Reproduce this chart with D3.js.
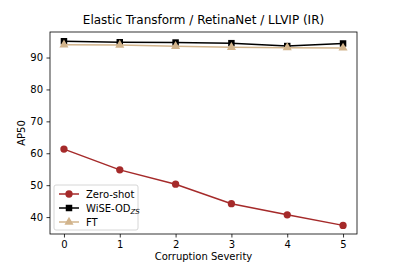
<!DOCTYPE html>
<html>
<head>
<meta charset="UTF-8">
<script src="https://d3js.org/d3.v7.min.js"></script>
<style>
  body { margin: 0; background: #fff; }
  text { font-family: "DejaVu Sans", sans-serif; }
</style>
</head>
<body>
<div id="chart"></div>
<script>
var severities = [0, 1, 2, 3, 4, 5];
var zeroShot = [61.3, 54.8, 50.3, 44.2, 40.7, 37.4];
var wise = [95.1, 94.8, 94.7, 94.5, 93.6, 94.4];
var ft = [94.0, 93.9, 93.5, 93.2, 93.1, 93.0];
var yTicks = [40, 50, 60, 70, 80, 90];

(function(d3) {
var width = 397, height = 264;
var mLeft = 50, mRight = 357, mTop = 32, mBottom = 234;

var svg = d3.select('#chart').append('svg')
  .attr('width', width).attr('height', height);

var x = d3.scaleLinear().domain([-0.25, 5.25]).range([mLeft, mRight]);
var y = d3.scaleLinear().domain([34.7, 98.0]).range([mBottom, mTop]);

var series = [
  { name: 'Zero-shot', values: zeroShot, color: '#a52a2a', marker: 'circle' },
  { name: 'WiSE-OD', sub: 'ZS', values: wise, color: '#000000', marker: 'square' },
  { name: 'FT', values: ft, color: '#d2b48c', marker: 'triangle' }
];

var symbols = { circle: d3.symbolCircle, square: d3.symbolSquare, triangle: d3.symbolTriangle };
var sizes = { circle: 42, square: 42, triangle: 36 };

var line = d3.line().x(function(d, i) { return x(severities[i]); }).y(function(d) { return y(d); });

series.forEach(function(s) {
  svg.append('path').attr('d', line(s.values))
    .attr('fill', 'none').attr('stroke', s.color).attr('stroke-width', 1.5);
  svg.selectAll(null).data(s.values).enter().append('path')
    .attr('d', d3.symbol().type(symbols[s.marker]).size(sizes[s.marker]))
    .attr('transform', function(d, i) { return 'translate(' + x(severities[i]) + ',' + y(d) + ')'; })
    .attr('fill', s.color);
});

// axes
var xAxis = svg.append('g').attr('transform', 'translate(0,' + mBottom + ')')
  .call(d3.axisBottom(x).tickValues(severities).tickSize(3.5).tickPadding(3.5).tickFormat(d3.format('d')));
var yAxis = svg.append('g').attr('transform', 'translate(' + mLeft + ',0)')
  .call(d3.axisLeft(y).tickValues(yTicks).tickSize(3.5).tickPadding(3.5));
[xAxis, yAxis].forEach(function(a) {
  a.select('.domain').remove();
  a.selectAll('text').attr('font-size', 10).attr('fill', '#000').style('font-family', '"DejaVu Sans", sans-serif');
  a.selectAll('line').attr('stroke', '#000').attr('stroke-width', 0.8);
});
svg.append('rect').attr('x', mLeft).attr('y', mTop).attr('width', mRight - mLeft).attr('height', mBottom - mTop)
  .attr('fill', 'none').attr('stroke', '#000').attr('stroke-width', 0.8);

svg.append('text').attr('x', (mLeft + mRight) / 2).attr('y', 24).attr('text-anchor', 'middle')
  .attr('font-size', 12).text('Elastic Transform / RetinaNet / LLVIP (IR)');
svg.append('text').attr('x', (mLeft + mRight) / 2).attr('y', 260).attr('text-anchor', 'middle')
  .attr('font-size', 10).text('Corruption Severity');
svg.append('text').attr('transform', 'translate(25,' + ((mTop + mBottom) / 2) + ') rotate(-90)')
  .attr('text-anchor', 'middle').attr('font-size', 10).text('AP50');

// legend
var lg = svg.append('g').attr('transform', 'translate(54,185)');
lg.append('rect').attr('width', 84).attr('height', 45).attr('rx', 2)
  .attr('fill', '#fff').attr('fill-opacity', 0.8).attr('stroke', '#ccc').attr('stroke-width', 0.8);
series.forEach(function(s, i) {
  var cy = 9 + i * 14;
  lg.append('line').attr('x1', 5).attr('x2', 25).attr('y1', cy).attr('y2', cy)
    .attr('stroke', s.color).attr('stroke-width', 1.5);
  lg.append('path').attr('d', d3.symbol().type(symbols[s.marker]).size(sizes[s.marker]))
    .attr('transform', 'translate(15,' + cy + ')').attr('fill', s.color);
  var t = lg.append('text').attr('x', 32).attr('y', cy + 3.5).attr('font-size', 10).text(s.name);
  if (s.sub) {
    t.append('tspan').attr('font-size', 7).attr('font-style', 'italic').attr('dy', 2).text(s.sub);
  }
});
})(window.d3);
</script>
</body>
</html>
